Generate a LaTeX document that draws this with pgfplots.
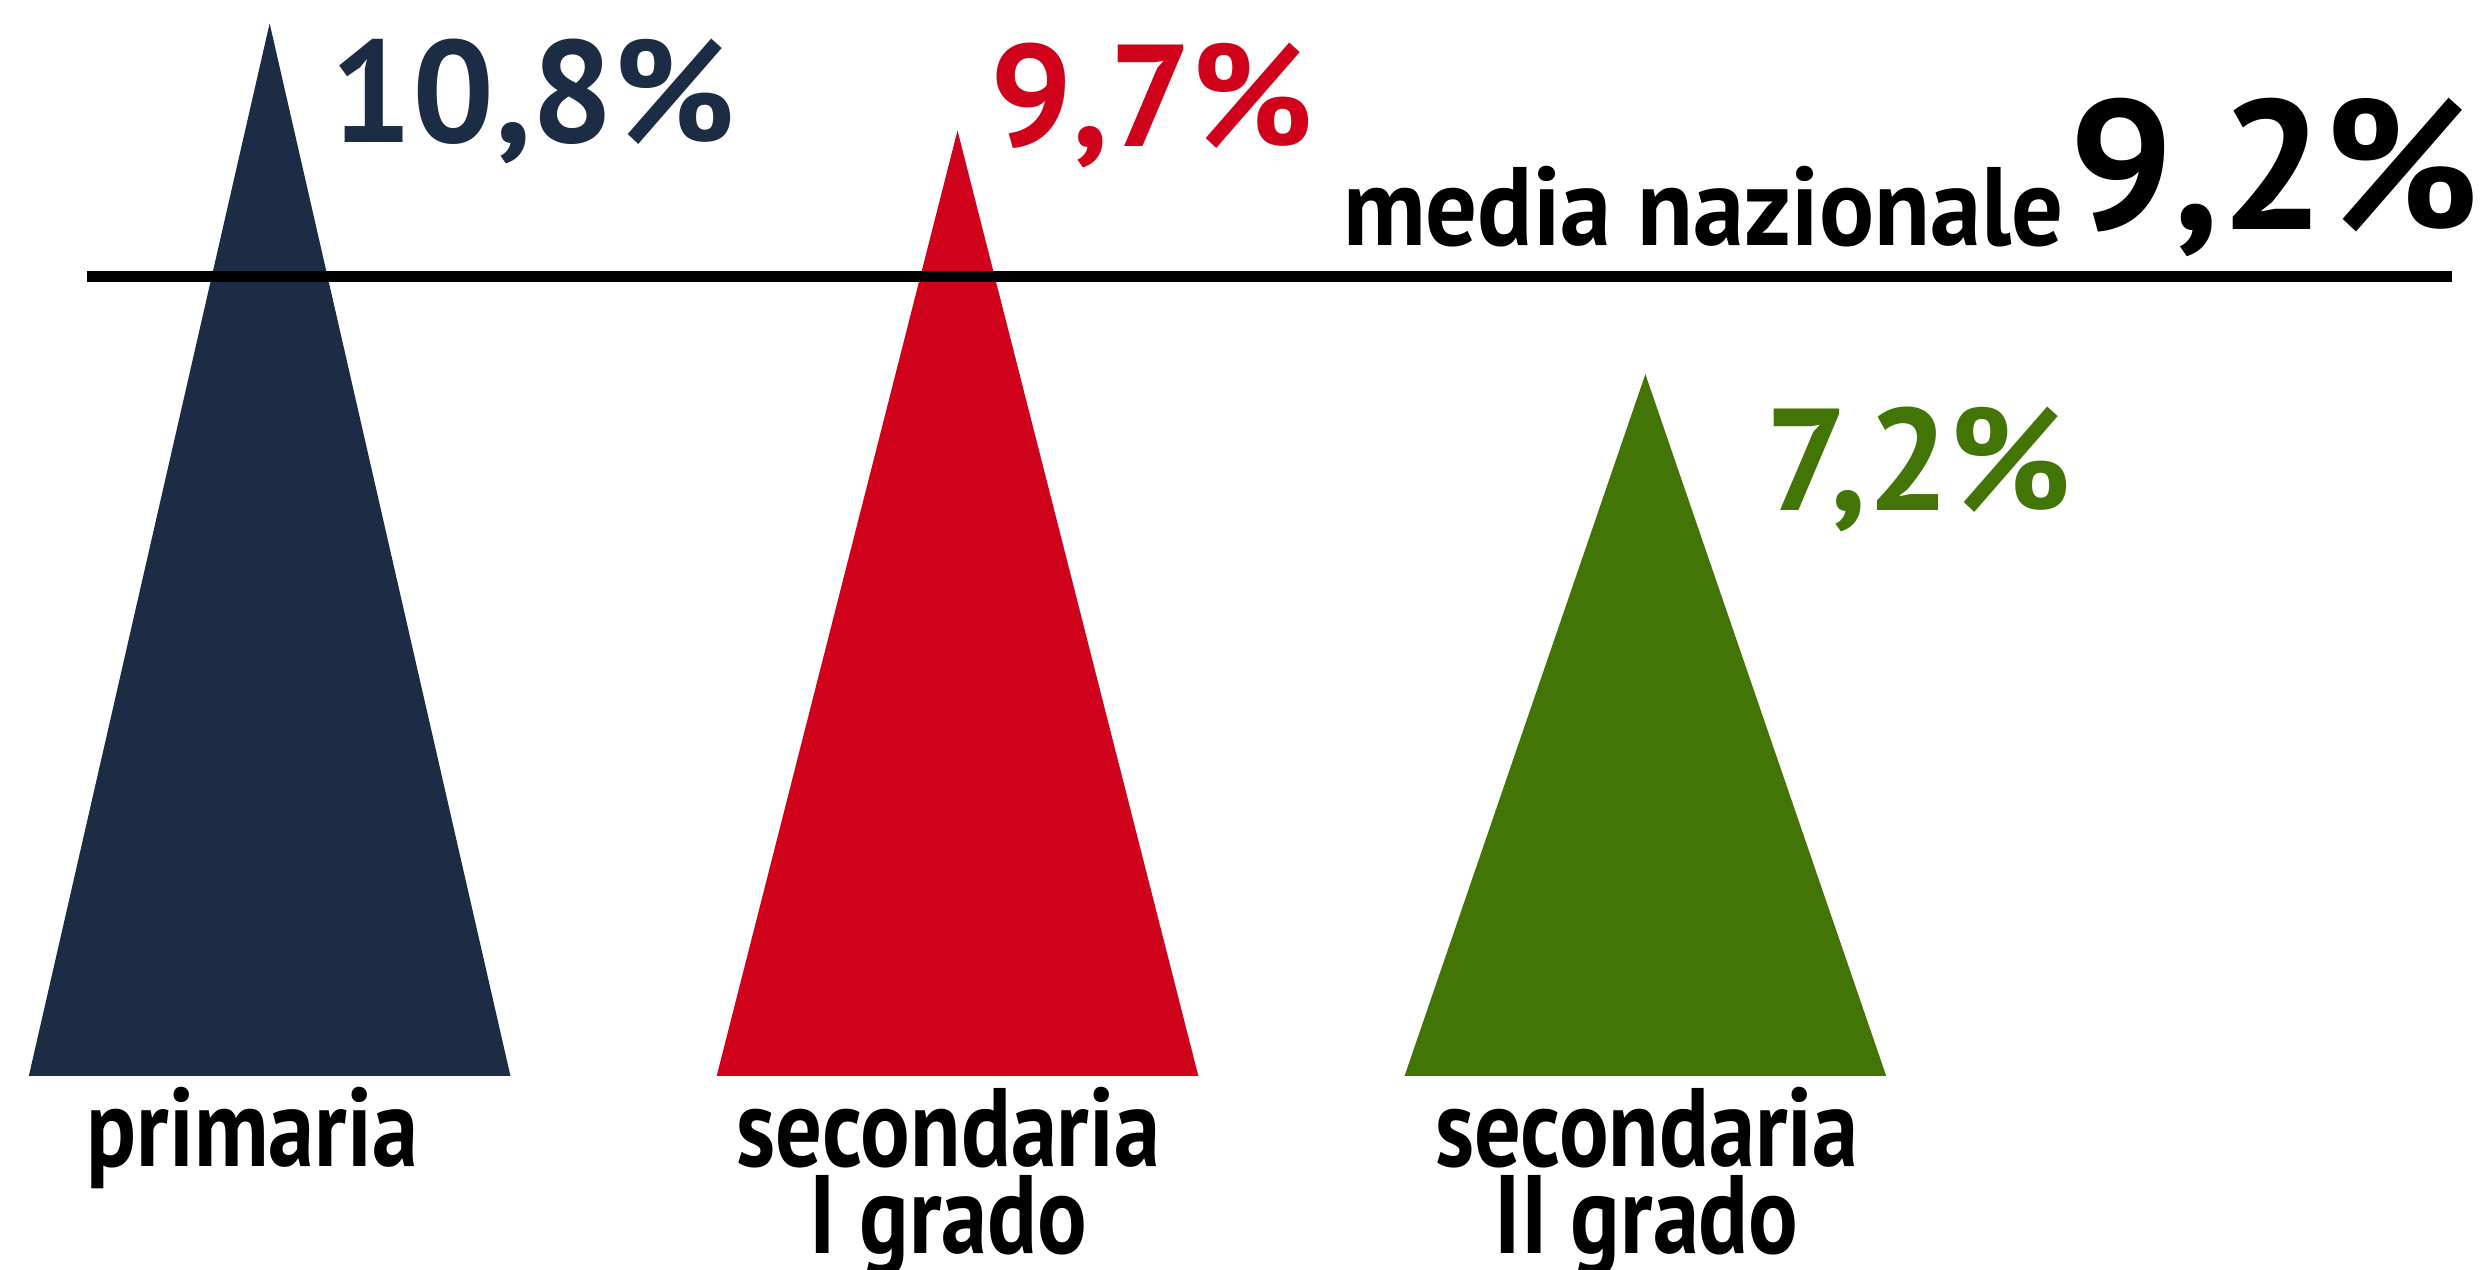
\documentclass[border=0pt]{standalone}
\usepackage{pgfplots}
\pgfplotsset{compat=1.18}
\usepackage{fontspec}
\setmainfont{PT Sans}
\newfontfamily\labfont[FakeStretch=0.83]{PT Sans}
\newfontfamily\medfont[FakeStretch=0.92]{PT Sans}

\definecolor{navy}{HTML}{1C2C45}
\definecolor{rosso}{HTML}{D0021B}
\definecolor{verde}{HTML}{437506}

\begin{document}
\begin{tikzpicture}
\begin{axis}[
    name=ax,
    scale only axis,
    width=15.68cm, height=8cm,
    xmin=-0.392, xmax=3.225,
    ymin=-1.987, ymax=11.04,
    hide axis, clip=false,
    every node/.style={inner sep=0pt},
]
% triangoli
\addplot[draw=none, fill=navy]  coordinates {(-0.35,0) (0,10.8) (0.35,0)} --cycle;
\addplot[draw=none, fill=rosso] coordinates {(0.65,0) (1,9.7) (1.35,0)} --cycle;
\addplot[draw=none, fill=verde] coordinates {(1.65,0) (2,7.2) (2.35,0)} --cycle;
% media nazionale
\addplot[black, line width=2pt] coordinates {(-0.265,8.2) (3.172,8.2)};

\node[anchor=base west, text=navy, font=\fontsize{26}{26}\bfseries\selectfont] at (axis cs:0.060,9.58) {10,8\%};
\node[anchor=base west, text=rosso, font=\fontsize{26}{26}\bfseries\selectfont] at (axis cs:1.019,9.54) {9,7\%};
\node[anchor=base west, text=verde, font=\fontsize{26}{26}\bfseries\selectfont] at (axis cs:2.146,5.80) {7,2\%};
\node[anchor=base west, font=\medfont\fontsize{20}{20}\bfseries\selectfont] at (axis cs:1.532,8.52) {media nazionale};
\node[anchor=base west, font=\fontsize{33}{33}\bfseries\selectfont] at (axis cs:2.588,8.68) {9,2\%};

\node[anchor=base, font=\labfont\fontsize{20}{20}\bfseries\selectfont] at (axis cs:-0.025,-0.928) {primaria};
\node[anchor=base, font=\labfont\fontsize{20}{20}\bfseries\selectfont] at (axis cs:0.987,-0.928) {secondaria};
\node[anchor=base, font=\labfont\fontsize{20}{20}\bfseries\selectfont] at (axis cs:0.987,-1.824) {I grado};
\node[anchor=base, font=\labfont\fontsize{20}{20}\bfseries\selectfont] at (axis cs:2.002,-0.928) {secondaria};
\node[anchor=base, font=\labfont\fontsize{20}{20}\bfseries\selectfont] at (axis cs:2.002,-1.824) {II grado};
\end{axis}
\pgfresetboundingbox
\path[use as bounding box] (ax.south west) rectangle (ax.north east);
\end{tikzpicture}
\end{document}
